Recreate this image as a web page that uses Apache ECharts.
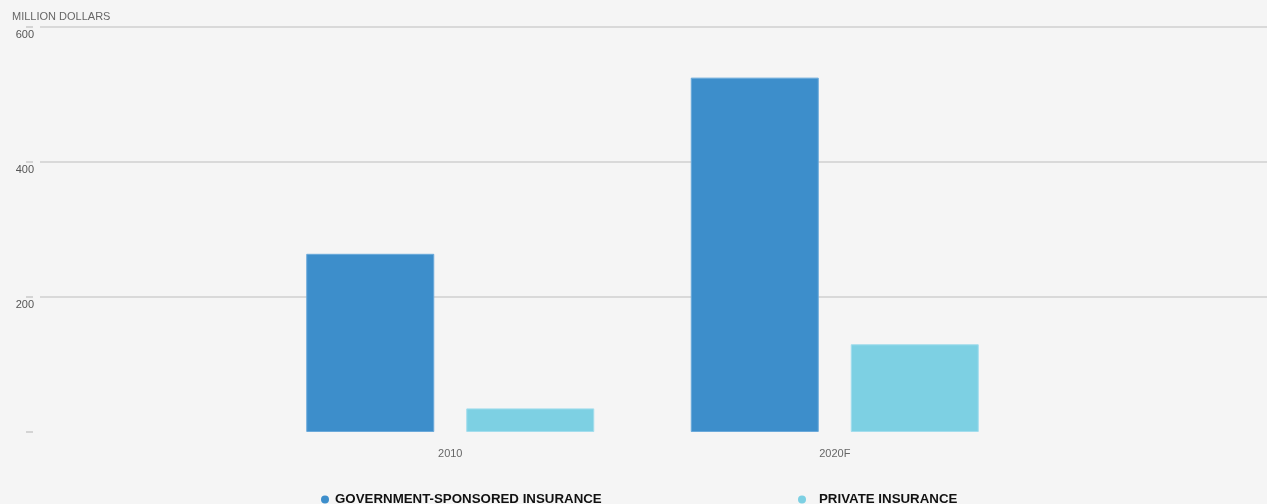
<!DOCTYPE html>
<html>
<head>
<meta charset="utf-8">
<script src="https://cdn.jsdelivr.net/npm/echarts@6/dist/echarts.min.js"></script>
<style>
  html, body { margin: 0; padding: 0; background: #f5f5f5; }
  #chart { width: 1267px; height: 504px; }
</style>
</head>
<body>
<div id="chart"></div>
<script>
var categories = ['2010', '2020F'];
var govValues = [264, 525];
var privateValues = [35, 130];
var yTicks = [0, 200, 400, 600];

var chart = echarts.init(document.getElementById('chart'));
var font = '"Liberation Sans", Arial, sans-serif';

// y scale shared by all three grids
function yScale(extra) {
    return Object.assign({
        type: 'value',
        min: yTicks[0],
        max: yTicks[yTicks.length - 1],
        interval: 200
    }, extra);
}

var option = {
    backgroundColor: '#f5f5f5',
    animation: false,
    title: {
        text: 'MILLION DOLLARS',
        left: 7,
        top: 6,
        textStyle: { fontSize: 11, fontWeight: 'normal', color: '#666', fontFamily: font }
    },
    legend: [
        {
            data: ['GOVERNMENT-SPONSORED INSURANCE'],
            left: 321,
            top: 493,
            padding: 0,
            icon: 'circle',
            itemWidth: 8,
            itemHeight: 8,
            itemStyle: { borderWidth: 0 },
            textStyle: { fontSize: 13.3, fontWeight: 'bold', color: '#111', fontFamily: font, padding: [0, 0, 0, 1] }
        },
        {
            data: ['PRIVATE INSURANCE'],
            left: 798,
            top: 493,
            padding: 0,
            icon: 'circle',
            itemWidth: 8,
            itemHeight: 8,
            itemStyle: { borderWidth: 0 },
            textStyle: { fontSize: 13.3, fontWeight: 'bold', color: '#111', fontFamily: font, padding: [0, 0, 0, 8] }
        }
    ],
    grid: [
        { left: 40, right: 0, top: 27, bottom: 72 },
        { left: 258, right: 240, top: 27, bottom: 72 },
        { left: 26, width: 7, top: 27, bottom: 72 }
    ],
    xAxis: [
        { gridIndex: 0, type: 'value', min: 0, max: 1, show: false },
        {
            gridIndex: 1,
            type: 'category',
            data: categories,
            axisLine: { show: false },
            axisTick: { show: false },
            axisLabel: { margin: 16, fontSize: 11, color: '#666', fontFamily: font }
        },
        { gridIndex: 2, type: 'value', min: 0, max: 1, show: false }
    ],
    yAxis: [
        yScale({
            gridIndex: 0,
            axisLine: { show: false },
            axisTick: { show: false },
            axisLabel: {
                showMinLabel: false,
                verticalAlign: 'top',
                align: 'right',
                margin: 6,
                padding: [2, 0, 0, 0],
                fontSize: 11,
                color: '#555',
                fontFamily: font
            },
            splitLine: { show: true, showMinLine: false, lineStyle: { color: '#cfcfcf', width: 1.5 } }
        }),
        yScale({ gridIndex: 1, show: false }),
        // short tick marks left of the grid lines
        yScale({
            gridIndex: 2,
            axisLine: { show: false },
            axisTick: { show: false },
            axisLabel: { show: false },
            splitLine: { show: true, lineStyle: { color: '#c8c8c8', width: 1.5 } }
        })
    ],
    series: [
        {
            name: 'GOVERNMENT-SPONSORED INSURANCE',
            type: 'bar',
            xAxisIndex: 1,
            yAxisIndex: 1,
            data: govValues,
            barWidth: 128,
            barGap: '25%',
            itemStyle: { color: '#3d8ecb', borderColor: '#6aa9da', borderWidth: 1 }
        },
        {
            name: 'PRIVATE INSURANCE',
            type: 'bar',
            xAxisIndex: 1,
            yAxisIndex: 1,
            data: privateValues,
            barWidth: 128,
            itemStyle: { color: '#7dd0e3', borderColor: '#a3dded', borderWidth: 1 }
        }
    ]
};

chart.setOption(option, true);
</script>
</body>
</html>
